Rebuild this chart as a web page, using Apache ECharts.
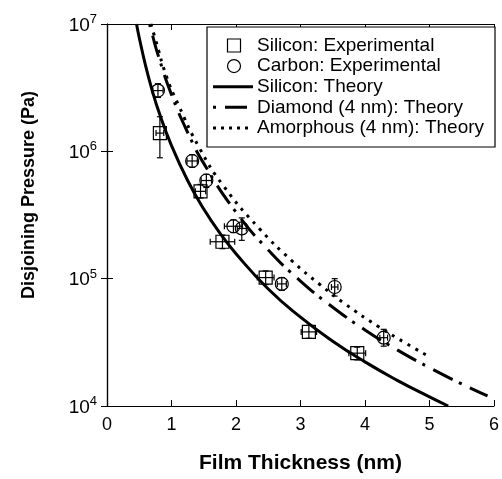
<!DOCTYPE html>
<html>
<head>
<meta charset="utf-8">
<script src="https://cdn.jsdelivr.net/npm/echarts@6/dist/echarts.min.js"></script>
<style>html,body{margin:0;padding:0;background:#fff}#c{width:502px;height:479px}</style>
</head>
<body>
<div id="c"></div>
<script>
// ---- data ----
var xTicks = [0, 1, 2, 3, 4, 5, 6];
var yTicks = [1e4, 1e5, 1e6, 1e7];

var siliconX    = [0.82, 1.45, 1.79, 2.46, 3.13, 3.88];
var siliconY    = [1.39e6, 4.85e5, 1.95e5, 1.02e5, 3.82e4, 2.6e4];
var siliconXErr = [0.06, 0.08, 0.19, 0.13, 0.12, 0.13];
var siliconYLow = [8.9e5, 4.3e5, 1.72e5, 9.0e4, 3.4e4, 2.3e4];
var siliconYHigh= [1.87e6, 5.5e5, 2.2e5, 1.15e5, 4.3e4, 2.9e4];

var carbonX    = [0.79, 1.32, 1.54, 1.96, 2.09, 2.71, 3.53, 4.29];
var carbonY    = [3.0e6, 8.4e5, 5.9e5, 2.58e5, 2.48e5, 9.1e4, 8.6e4, 3.44e4];
var carbonXErr = [0.08, 0.08, 0.08, 0.14, 0.07, 0.07, 0.05, 0.06];
var carbonYLow = [2.65e6, 7.5e5, 5.2e5, 2.3e5, 2.0e5, 8.1e4, 7.3e4, 2.95e4];
var carbonYHigh= [3.4e6, 9.4e5, 6.6e5, 2.9e5, 3.0e5, 1.02e5, 1.0e5, 4.0e4];

var siliconTheoryX = [0.458, 0.5, 0.6, 0.7, 0.8, 1.0, 1.25, 1.5, 1.75, 2.0, 2.5, 3.0, 3.5, 4.0, 4.5, 5.0, 5.29];
var siliconTheoryY = [1e7, 7.8e6, 4.67e6, 3.02e6, 2.07e6, 1.11e6, 5.9e5, 3.52e5, 2.28e5, 1.57e5, 8.3e4, 4.99e4, 3.23e4, 2.22e4, 1.59e4, 1.18e4, 1.0e4];

var diamondTheoryX = [0.66, 0.7, 0.8, 1.0, 1.25, 1.5, 2.0, 2.5, 3.0, 3.5, 4.0, 4.5, 5.0, 5.5, 5.9];
var diamondTheoryY = [1e7, 8.35e6, 5.54e6, 2.79e6, 1.41e6, 8.04e5, 3.33e5, 1.68e5, 9.58e4, 5.97e4, 3.96e4, 2.76e4, 2.0e4, 1.49e4, 1.2e4];

var amorphTheoryX = [0.68, 0.75, 0.92, 1.1, 1.434, 1.8, 2.36, 2.874, 3.3, 3.697, 4.2, 4.6, 5.01];
var amorphTheoryY = [1e7, 7.6e6, 3.9e6, 2.36e6, 1.06e6, 5.4e5, 2.48e5, 1.37e5, 9.0e4, 6.3e4, 4.23e4, 3.18e4, 2.42e4];

var legendLabels = ['Silicon: Experimental', 'Carbon: Experimental', 'Silicon: Theory', 'Diamond (4 nm): Theory', 'Amorphous (4 nm): Theory'];

// ---- build ----
function zip(a, b) { return a.map(function (v, i) { return [v, b[i]]; }); }
function expData(xs, ys, xe, yl, yh) {
  return xs.map(function (v, i) { return [v, ys[i], xe[i], yl[i], yh[i]]; });
}
var FONT = '"Liberation Sans", Arial, sans-serif';

function makeRender(shape) {
  return function (params, api) {
    var x = api.value(0), y = api.value(1), xe = api.value(2), yl = api.value(3), yh = api.value(4);
    var c = api.coord([x, y]);
    var l = api.coord([x - xe, y]), r = api.coord([x + xe, y]);
    var lo = api.coord([x, yl]), hi = api.coord([x, yh]);
    var st = { stroke: '#000', lineWidth: 1.2, fill: null };
    var cap = 3;
    var children = [
      { type: 'line', shape: { x1: l[0], y1: c[1], x2: r[0], y2: c[1] }, style: st },
      { type: 'line', shape: { x1: l[0], y1: c[1] - cap, x2: l[0], y2: c[1] + cap }, style: st },
      { type: 'line', shape: { x1: r[0], y1: c[1] - cap, x2: r[0], y2: c[1] + cap }, style: st },
      { type: 'line', shape: { x1: c[0], y1: lo[1], x2: c[0], y2: hi[1] }, style: st },
      { type: 'line', shape: { x1: c[0] - cap, y1: lo[1], x2: c[0] + cap, y2: lo[1] }, style: st },
      { type: 'line', shape: { x1: c[0] - cap, y1: hi[1], x2: c[0] + cap, y2: hi[1] }, style: st }
    ];
    if (shape === 'rect') {
      children.push({ type: 'rect', shape: { x: c[0] - 6.5, y: c[1] - 6.5, width: 13, height: 13 }, style: st });
    } else {
      children.push({ type: 'circle', shape: { cx: c[0], cy: c[1], r: 6.5 }, style: st });
    }
    return { type: 'group', children: children };
  };
}

var chart = echarts.init(document.getElementById('c'), null, { renderer: 'canvas' });

var axisLine = { show: true, lineStyle: { color: '#000', width: 1.2 } };
var tickIn = { show: true, inside: true, length: 6, lineStyle: { color: '#000', width: 1 } };

var legendY0 = 45.5, legendDy = 20.6;
var graphics = [
  { type: 'rect', shape: { x: 207, y: 27, width: 288, height: 120 }, style: { fill: '#fff', stroke: '#000', lineWidth: 1.2 }, z: 100 }
];
legendLabels.forEach(function (t, i) {
  var yy = legendY0 + i * legendDy;
  graphics.push({ type: 'text', x: 257, y: yy, style: { text: t, fontFamily: FONT, fontSize: 19, fill: '#000', verticalAlign: 'middle', align: 'left' }, z: 101 });
});
graphics.push({ type: 'rect', shape: { x: 234 - 6.5, y: legendY0 - 6.5, width: 13, height: 13 }, style: { fill: null, stroke: '#000', lineWidth: 1.2 }, z: 101 });
graphics.push({ type: 'circle', shape: { cx: 234, cy: legendY0 + legendDy, r: 6.5 }, style: { fill: null, stroke: '#000', lineWidth: 1.2 }, z: 101 });
graphics.push({ type: 'line', shape: { x1: 213, y1: legendY0 + 2 * legendDy, x2: 253, y2: legendY0 + 2 * legendDy }, style: { stroke: '#000', lineWidth: 3 }, z: 101 });
graphics.push({ type: 'line', shape: { x1: 213, y1: legendY0 + 3 * legendDy, x2: 253, y2: legendY0 + 3 * legendDy }, style: { stroke: '#000', lineWidth: 3, lineDash: [3, 9, 22, 7] }, z: 101 });
graphics.push({ type: 'line', shape: { x1: 213, y1: legendY0 + 4 * legendDy, x2: 253, y2: legendY0 + 4 * legendDy }, style: { stroke: '#000', lineWidth: 3, lineDash: [3, 5] }, z: 101 });

chart.setOption({
  backgroundColor: '#fff',
  animation: false,
  textStyle: { fontFamily: FONT },
  grid: { left: 107, top: 24, width: 389, height: 388, containLabel: false },
  xAxis: [{
    type: 'value', min: 0, max: 6, interval: 1,
    name: 'Film Thickness (nm)', nameLocation: 'middle', nameGap: 47,
    nameTextStyle: { fontFamily: FONT, fontSize: 21, fontWeight: 'bold', color: '#000' },
    axisLine: axisLine, axisTick: tickIn,
    axisLabel: { fontFamily: FONT, fontSize: 18, color: '#000', margin: 10,
      formatter: function (v) { return xTicks.indexOf(v) >= 0 ? String(v) : ''; } },
    splitLine: { show: false }
  }, {
    type: 'value', min: 0, max: 6, interval: 1, position: 'top',
    axisLine: axisLine, axisTick: tickIn, axisLabel: { show: false }, splitLine: { show: false }
  }],
  yAxis: [{
    type: 'log', logBase: 10, min: yTicks[0], max: yTicks[yTicks.length - 1], splitNumber: 3,
    name: 'Disjoining Pressure (Pa)', nameLocation: 'middle', nameGap: 69,
    nameTextStyle: { fontFamily: FONT, fontSize: 18, fontWeight: 'bold', color: '#000', padding: [0, 0, 0, 40] },
    axisLine: axisLine, axisTick: tickIn,
    axisLabel: {
      margin: 10, color: '#000',
      formatter: function (v) { return '{b|10}{s|' + Math.round(Math.log10(v)) + '}'; },
      rich: {
        b: { fontFamily: FONT, fontSize: 19, color: '#000', lineHeight: 22, verticalAlign: 'bottom' },
        s: { fontFamily: FONT, fontSize: 13, color: '#000', lineHeight: 22, verticalAlign: 'top', padding: [0, 0, 10, 0] }
      }
    },
    splitLine: { show: false }
  }, {
    type: 'log', logBase: 10, min: yTicks[0], max: yTicks[yTicks.length - 1], splitNumber: 3, position: 'right',
    axisLine: axisLine, axisTick: tickIn, axisLabel: { show: false }, splitLine: { show: false }
  }],
  graphic: graphics,
  series: [
    { name: legendLabels[2], type: 'line', data: zip(siliconTheoryX, siliconTheoryY), smooth: true, showSymbol: false,
      lineStyle: { color: '#000', width: 3 }, clip: true, z: 3 },
    { name: legendLabels[3], type: 'line', data: zip(diamondTheoryX, diamondTheoryY), smooth: true, showSymbol: false,
      lineStyle: { color: '#000', width: 3, type: [3, 9, 22, 7] }, clip: true, z: 3 },
    { name: legendLabels[4], type: 'line', data: zip(amorphTheoryX, amorphTheoryY), smooth: true, showSymbol: false,
      lineStyle: { color: '#000', width: 3, type: [3, 6] }, clip: true, z: 3 },
    { name: legendLabels[0], type: 'custom', renderItem: makeRender('rect'),
      data: expData(siliconX, siliconY, siliconXErr, siliconYLow, siliconYHigh), encode: { x: 0, y: 1 }, z: 5 },
    { name: legendLabels[1], type: 'custom', renderItem: makeRender('circle'),
      data: expData(carbonX, carbonY, carbonXErr, carbonYLow, carbonYHigh), encode: { x: 0, y: 1 }, z: 5 }
  ]
});
</script>
</body>
</html>
